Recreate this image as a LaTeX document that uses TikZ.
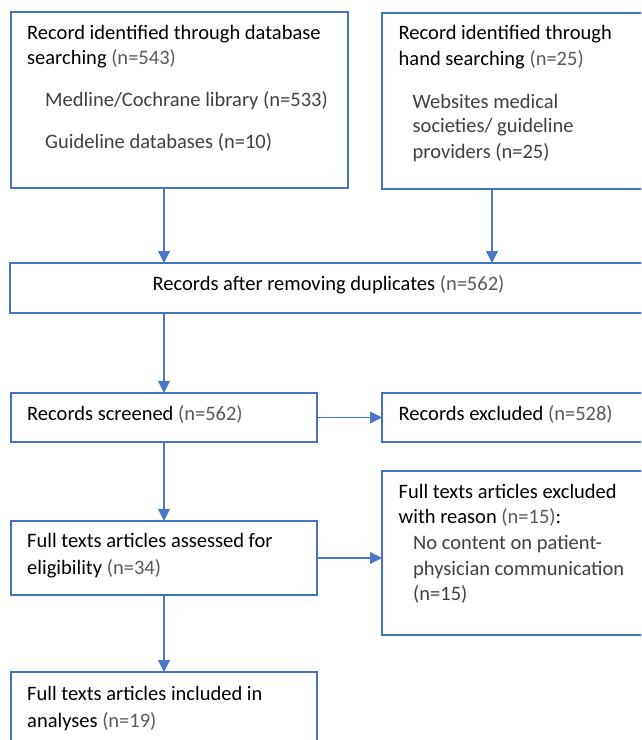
\documentclass[tikz,border=0pt]{standalone}
\usepackage{fontspec}
\setmainfont{Carlito}
\usetikzlibrary{arrows.meta}
\definecolor{boxblue}{HTML}{4472C4}
\definecolor{arrowblue}{HTML}{4A78C8}
\definecolor{numgray}{HTML}{595959}
\definecolor{subgray}{HTML}{404040}
\newcommand{\cnt}[1]{\textcolor{numgray}{#1}}
\begin{document}
\begin{tikzpicture}[x=1pt,y=-1pt,
  flowbox/.style={draw=boxblue, line width=2pt, rectangle, inner sep=0pt, outer sep=0pt, anchor=north west},
  txt/.style={anchor=base west, inner sep=0pt, font=\fontsize{20.5}{25}\selectfont, text=black},
  subtxt/.style={txt, text=subgray},
  arr/.style={draw=arrowblue, line width=1.1pt, -{Triangle[width=12pt,length=12pt]}}]
\useasboundingbox (0,0) rectangle (641,740);
\clip (0,0) rectangle (641,740);

% boxes
\node[flowbox, minimum width=337pt, minimum height=176pt] (b1) at (11,12) {};
\node[flowbox, minimum width=280pt, minimum height=176pt] (b2) at (382,12.5) {};
\node[flowbox, minimum width=637pt, minimum height=50pt] (b3) at (10,263) {};
\node[flowbox, minimum width=306pt, minimum height=49pt] (b4) at (11,393) {};
\node[flowbox, minimum width=280pt, minimum height=49pt] (b5) at (382,393) {};
\node[flowbox, minimum width=306pt, minimum height=74pt] (b6) at (11,521) {};
\node[flowbox, minimum width=280pt, minimum height=164pt] (b7) at (382,471) {};
\node[flowbox, minimum width=306pt, minimum height=90pt] (b8) at (11,672) {};

% texts
\node[txt] (t1a) at (27,39.3) {Record identified through database};
\node[txt] (t1b) at (27,64.5) {searching \cnt{(n=543)}};
\node[subtxt] (t1c) at (45,106) {Medline/Cochrane library (n=533)};
\node[subtxt] (t1d) at (45,148.3) {Guideline databases (n=10)};

\node[txt] (t2a) at (398.5,39.5) {Record identified through};
\node[txt] (t2b) at (398.5,65) {hand searching \cnt{(n=25)}};
\node[subtxt] (t2c) at (412.5,108) {Websites medical};
\node[subtxt] (t2d) at (412.5,132.5) {societies/ guideline};
\node[subtxt] (t2e) at (412.5,158) {providers (n=25)};

\node[txt, anchor=base] (t3) at (328.5,290.7) {Records after removing duplicates \cnt{(n=562)}};

\node[txt] (t4) at (27,420) {Records screened \cnt{(n=562)}};
\node[txt] (t5) at (398.5,420) {Records excluded \cnt{(n=528)}};

\node[txt] (t6a) at (27,547.3) {Full texts articles assessed for};
\node[txt] (t6b) at (27,574) {eligibility \cnt{(n=34)}};

\node[txt] (t7a) at (398.5,498.3) {Full texts articles excluded};
\node[txt] (t7b) at (398.5,523.3) {with reason \cnt{(n=15)}:};
\node[subtxt] (t7c) at (413,549.3) {No content on patient-};
\node[subtxt] (t7d) at (413,575) {physician communication};
\node[subtxt] (t7e) at (413,600) {(n=15)};

\node[txt] (t8a) at (27,700) {Full texts articles included in};
\node[txt] (t8b) at (27,727) {analyses \cnt{(n=19)}};

% connectors
\coordinate (c2) at (492,0);
\draw[arr] (b1.south -| b4) -- (b3.north -| b4);
\draw[arr] (b2.south -| c2) -- (b3.north -| c2);
\draw[arr] (b3.south -| b4) -- (b4.north);
\draw[arr] (b4.east) -- (b4.east -| b5.west);
\draw[arr] (b4.south) -- (b6.north);
\draw[arr] (b6.east) -- (b6.east -| b7.west);
\draw[arr] (b6.south) -- (b8.north);
\end{tikzpicture}
\end{document}
